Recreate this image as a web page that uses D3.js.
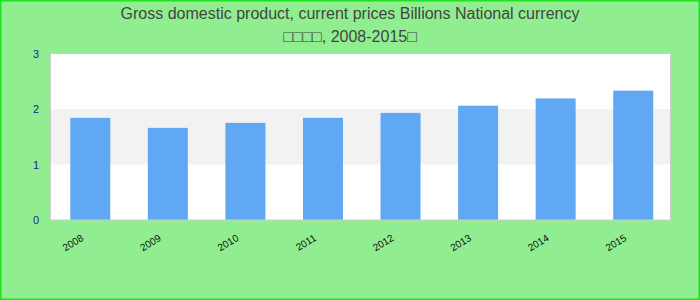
<!DOCTYPE html>
<html><head><meta charset="utf-8">
<script src="https://cdn.jsdelivr.net/npm/d3@7"></script>
<style>
html,body{margin:0;padding:0;background:#90ee90;}
svg{display:block;}
</style></head>
<body>
<script>
const titleLine1 = "Gross domestic product, current prices Billions National currency";
const titleLine2 = "\u25A1\u25A1\u25A1\u25A1, 2008-2015\u25A1";
const categories = ["2008","2009","2010","2011","2012","2013","2014","2015"];
const values = [1.84, 1.66, 1.75, 1.84, 1.93, 2.06, 2.19, 2.33];
const yTicks = [0, 1, 2, 3];

const W = 700, H = 300;
const svg = d3.select("body").append("svg").attr("width", W).attr("height", H);

svg.append("rect").attr("x",0.75).attr("y",0.75).attr("width",W-1.5).attr("height",H-1.5)
  .attr("fill","#90ee90").attr("stroke","#22e022").attr("stroke-width",1.5);

const plot = {l:50.5, r:670.5, t:53.5, b:220};
const x = d3.scaleBand().domain(categories).range([51.5, 672]).padding(0);
const y = d3.scaleLinear().domain([0,3]).range([plot.b, plot.t]);

svg.append("rect").attr("x",plot.l).attr("y",plot.t).attr("width",plot.r-plot.l).attr("height",plot.b-plot.t)
  .attr("fill","#fff");

// alternating bands
svg.selectAll("rect.band").data([[1,2]]).enter().append("rect").attr("class","band")
  .attr("x",plot.l).attr("width",plot.r-plot.l)
  .attr("y",d=>y(d[1])).attr("height",d=>y(d[0])-y(d[1])).attr("fill","#f2f2f2");

const bw = 40;
svg.selectAll("rect.bar").data(values).enter().append("rect").attr("class","bar")
  .attr("x",(d,i)=>x(categories[i]) + x.bandwidth()/2 - bw/2)
  .attr("width",bw)
  .attr("y",d=>y(d)).attr("height",d=>y(0)-y(d))
  .attr("fill","#60a8f4");

svg.append("rect").attr("x",plot.l).attr("y",plot.t).attr("width",plot.r-plot.l).attr("height",plot.b-plot.t)
  .attr("fill","none").attr("stroke","#cccccc").attr("stroke-width",1);

// y axis labels
const yAxis = d3.axisLeft(y).tickValues(yTicks).tickFormat(d3.format("d")).tickSize(0).tickPadding(0);
const ya = svg.append("g").attr("transform","translate(39,0)").call(yAxis);
ya.select(".domain").remove();
ya.selectAll("text").attr("fill","#1a1a99").style("font-family","'Liberation Sans', Arial, sans-serif").style("font-size","11px");

// x axis labels
const xAxis = d3.axisBottom(x).tickSize(0).tickPadding(0);
const xa = svg.append("g").call(xAxis);
xa.select(".domain").remove();
xa.selectAll(".tick").attr("transform", d=>`translate(${x(d)+x.bandwidth()/2},0)`);
xa.selectAll("text")
  .attr("y",0).attr("dy",0)
  .attr("text-anchor","end")
  .attr("transform","translate(-6,240) rotate(-31)")
  .attr("fill","#111")
  .style("font-family","'Liberation Sans', Arial, sans-serif").style("font-size","10px");

// title
const t = svg.append("g").style("font-family","'Liberation Sans', Arial, sans-serif").style("font-size","16px").attr("fill","#444");
t.append("text").attr("x",W/2).attr("y",19).attr("text-anchor","middle").text(titleLine1);
t.append("text").attr("x",W/2).attr("y",42).attr("text-anchor","middle").text(titleLine2);
</script>
</body></html>
